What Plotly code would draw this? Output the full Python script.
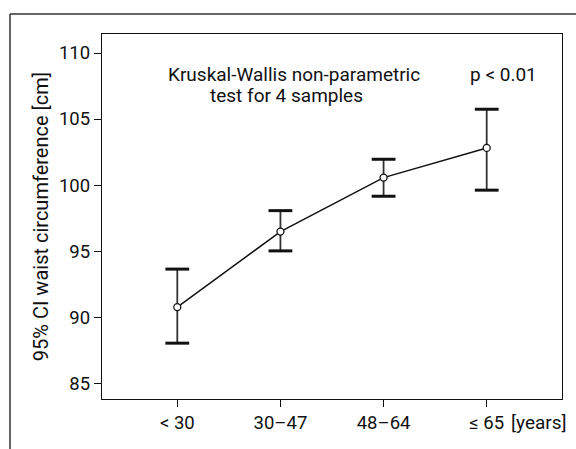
import plotly.graph_objects as go

categories = ["< 30", "30–47", "48–64", "≤ 65"]
means = [90.75, 96.47, 100.56, 102.81]
upper = [93.63, 98.06, 101.95, 105.74]
lower = [88.02, 95.01, 99.15, 99.61]
y_ticks = [85, 90, 95, 100, 105, 110]

FONT = "Liberation Sans Narrow, Arial Narrow, Roboto, sans-serif"
xpos = list(range(len(categories)))

fig = go.Figure()

# vertical CI lines
fig.add_trace(go.Scatter(
    x=xpos, y=means, mode="markers",
    marker=dict(size=0.1, color="rgba(0,0,0,0)"),
    error_y=dict(type="data", symmetric=False,
                 array=[u - m for u, m in zip(upper, means)],
                 arrayminus=[m - l for m, l in zip(means, lower)],
                 width=0, thickness=1.8, color="#333333"),
    showlegend=False, hoverinfo="skip"))

# caps
fig.add_trace(go.Scatter(
    x=xpos + xpos, y=upper + lower, mode="markers",
    marker=dict(symbol="line-ew", size=17, line=dict(width=3, color="#111111")),
    showlegend=False, hoverinfo="skip"))

# means line
fig.add_trace(go.Scatter(
    x=xpos, y=means, mode="lines+markers",
    line=dict(color="#111111", width=1.5),
    marker=dict(symbol="circle", size=7, color="white",
                line=dict(color="#111111", width=1.3)),
    showlegend=False))

fig.update_layout(
    width=576, height=449,
    margin=dict(l=102, r=14, t=34, b=50),
    paper_bgcolor="white", plot_bgcolor="white",
    font=dict(family=FONT, size=18, color="#111111"),
    xaxis=dict(range=[-0.73, 3.73], tickvals=xpos, ticktext=categories,
               showgrid=False, zeroline=False, showline=True, mirror=True,
               linecolor="#111111", linewidth=1.3, ticks="outside", ticklen=7,
               tickcolor="#111111", tickfont=dict(size=18.5)),
    yaxis=dict(range=[83.79, 111.44], tickvals=y_ticks,
               showgrid=False, zeroline=False, showline=True, mirror=True,
               linecolor="#111111", linewidth=1.3, ticks="outside", ticklen=7,
               tickcolor="#111111", tickfont=dict(size=18.5),
               title=dict(text="95% CI waist circumference [cm]", standoff=4,
                          font=dict(size=20))),
)

px = lambda p: (p - 102) / 460
py = lambda p: (399 - p) / 365

fig.add_annotation(text="Kruskal-Wallis non-parametric",
                   xref="paper", yref="paper", x=px(294), y=py(74),
                   xanchor="center", yanchor="middle", showarrow=False,
                   font=dict(size=19))
fig.add_annotation(text="test for 4 samples",
                   xref="paper", yref="paper", x=px(208), y=py(95),
                   xanchor="left", yanchor="middle", showarrow=False,
                   font=dict(size=19))
fig.add_annotation(text="p < 0.01", xref="paper", yref="paper",
                   x=px(503), y=py(74),
                   xanchor="center", yanchor="middle", showarrow=False,
                   font=dict(size=19))
fig.add_annotation(text="[years]", xref="paper", yref="paper",
                   x=px(569), y=py(422),
                   xanchor="right", yanchor="middle", showarrow=False,
                   font=dict(size=19))

# outer frame (left and top edges)
fig.add_shape(type="line", xref="paper", yref="paper",
              x0=px(10), x1=px(10), y0=py(14), y1=py(470),
              line=dict(color="#333333", width=1.5))
fig.add_shape(type="line", xref="paper", yref="paper",
              x0=px(10), x1=px(600), y0=py(14), y1=py(14),
              line=dict(color="#333333", width=1.5))

fig.write_html("out.html", config={"displayModeBar": False},
               post_script="document.body.style.margin='0';")
